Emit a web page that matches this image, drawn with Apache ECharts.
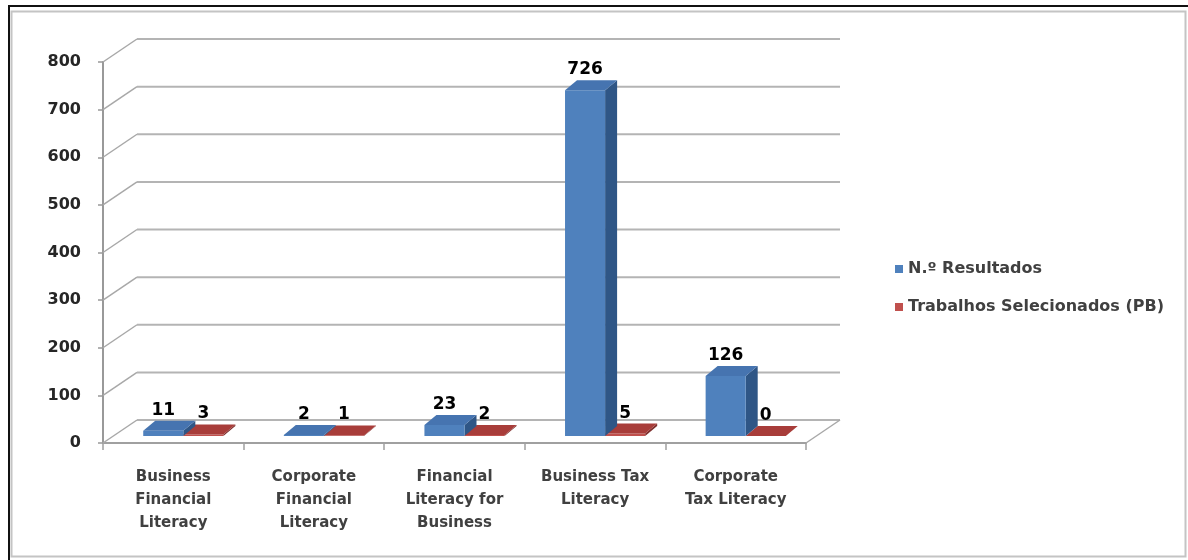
<!DOCTYPE html>
<html>
<head>
<meta charset="utf-8">
<script src="https://cdn.jsdelivr.net/npm/echarts@6/dist/echarts.min.js"></script>
<style>
  html, body { margin: 0; padding: 0; background: #ffffff; }
  #chart { width: 1188px; height: 560px; }
</style>
</head>
<body>
<div id="chart"></div>
<script>
// Search terms and counts per term
const categories = [
  'Business\nFinancial\nLiteracy',
  'Corporate\nFinancial\nLiteracy',
  'Financial\nLiteracy for\nBusiness',
  'Business Tax\nLiteracy',
  'Corporate\nTax Literacy'
];
const seriesNames = ['N.º Resultados', 'Trabalhos Selecionados (PB)'];
const resultados = [11, 2, 23, 726, 126];
const selecionados = [3, 1, 2, 5, 0];
const yTicks = [0, 100, 200, 300, 400, 500, 600, 700, 800];

// Pseudo-3D projection offsets (pixels)
const WALL = { dx: 34, dy: -23 };      // depth of floor / back wall
const BAR_FRONT = { dx: 10, dy: -7 };  // columns sit a little behind the front edge
const BAR_DEPTH = { dx: 12, dy: -10 }; // thickness of each column
const BAR_FRAC = 0.285;                // column width as a share of the category band

const FONT = '"DejaVu Sans", "Open Sans", sans-serif';

const palette = [
  { front: '#4f81bd', top: '#4674b0', side: '#2f5686' },
  { front: '#c0504d', top: '#a83d3a', side: '#7e2f2d' }
];

function columnRenderer(slot) {
  const c = palette[slot];
  return function (params, api) {
    const idx = api.value(0);
    const val = api.value(1);
    const base = api.coord([idx, 0]);
    const top = api.coord([idx, val]);
    const bw = api.size([1, 0])[0] * BAR_FRAC;
    const x0 = base[0] + (slot === 0 ? -bw : 0) + BAR_FRONT.dx;
    const x1 = x0 + bw;
    const yb = base[1] + BAR_FRONT.dy;
    const yt = top[1] + BAR_FRONT.dy;
    const dx = BAR_DEPTH.dx, dy = BAR_DEPTH.dy;
    return {
      type: 'group',
      children: [
        {
          type: 'polygon',
          shape: { points: [[x1, yb], [x1, yt], [x1 + dx, yt + dy], [x1 + dx, yb + dy]] },
          style: { fill: c.side }
        },
        {
          type: 'rect',
          shape: { x: x0, y: yt, width: bw, height: Math.max(yb - yt, 0) },
          style: { fill: c.front }
        },
        {
          type: 'polygon',
          shape: { points: [[x0, yt], [x1, yt], [x1 + dx, yt + dy], [x0 + dx, yt + dy]] },
          style: { fill: c.top }
        },
        {
          type: 'text',
          style: {
            text: String(val),
            x: (x0 + x1) / 2,
            y: yt + dy - 2,
            align: 'center',
            verticalAlign: 'bottom',
            font: 'bold 17px ' + FONT,
            fill: '#000000'
          }
        }
      ]
    };
  };
}

// Side-wall connectors, back-wall grid lines and the floor edge
function wallRenderer(params, api) {
  const t = api.value(1);
  const cs = params.coordSys;
  const y = api.coord([0, t])[1];
  const xl = cs.x, xr = cs.x + cs.width;
  const children = [
    {
      type: 'line',
      shape: { x1: xl, y1: y, x2: xl + WALL.dx, y2: y + WALL.dy },
      style: { stroke: '#a8a8a8', lineWidth: 1.5 }
    },
    {
      type: 'line',
      shape: { x1: xl + WALL.dx, y1: y + WALL.dy, x2: xr + WALL.dx, y2: y + WALL.dy },
      style: { stroke: '#b4b4b4', lineWidth: 2 }
    }
  ];
  if (t === 0) {
    children.push({
      type: 'line',
      shape: { x1: xr, y1: y, x2: xr + WALL.dx, y2: y + WALL.dy },
      style: { stroke: '#a8a8a8', lineWidth: 1.5 }
    });
  }
  return { type: 'group', children };
}

const chart = echarts.init(document.getElementById('chart'), null, { renderer: 'canvas' });

chart.setOption({
  backgroundColor: '#ffffff',
  animation: false,
  graphic: [
    { type: 'rect', shape: { x: 11.5, y: 11.5, width: 1174, height: 545 },
      style: { fill: 'none', stroke: '#c4c4c4', lineWidth: 2 }, z: 0 },
    { type: 'line', shape: { x1: 8, y1: 6, x2: 1188, y2: 6 },
      style: { stroke: '#111111', lineWidth: 2 }, z: 0 },
    { type: 'line', shape: { x1: 9, y1: 6, x2: 9, y2: 560 },
      style: { stroke: '#111111', lineWidth: 2 }, z: 0 }
  ],
  legend: {
    orient: 'vertical',
    left: 890,
    top: 256,
    itemWidth: 8,
    itemHeight: 8,
    itemGap: 22,
    icon: 'rect',
    data: seriesNames,
    textStyle: { fontFamily: FONT, fontSize: 16, fontWeight: 'bold', color: '#404040' }
  },
  grid: { left: 103, right: 382, top: 62, bottom: 117 },
  xAxis: {
    type: 'category',
    data: categories,
    axisLine: { show: true, lineStyle: { color: '#a0a0a0', width: 2 } },
    axisTick: { show: true, length: 7, lineStyle: { color: '#a0a0a0', width: 1.5 } },
    axisLabel: {
      interval: 0,
      margin: 23,
      fontFamily: FONT,
      fontSize: 15,
      fontWeight: 'bold',
      lineHeight: 23,
      color: '#404040'
    },
    splitLine: { show: false }
  },
  yAxis: {
    type: 'value',
    min: 0,
    max: 800,
    interval: 100,
    axisLine: { show: true, lineStyle: { color: '#999999', width: 2 } },
    axisTick: { show: true, length: 5, lineStyle: { color: '#999999', width: 1.5 } },
    axisLabel: {
      margin: 22,
      fontFamily: FONT,
      fontSize: 16,
      fontWeight: 'bold',
      color: '#262626'
    },
    splitLine: { show: false }
  },
  series: [
    {
      type: 'custom',
      name: 'walls',
      silent: true,
      z: 1,
      renderItem: wallRenderer,
      data: yTicks.map(function (t) { return [0, t]; }),
      encode: { x: 0, y: 1 }
    },
    {
      type: 'custom',
      name: seriesNames[1],
      z: 2,
      itemStyle: { color: palette[1].front },
      renderItem: columnRenderer(1),
      data: selecionados.map(function (v, i) { return [i, v]; }),
      encode: { x: 0, y: 1 }
    },
    {
      type: 'custom',
      name: seriesNames[0],
      z: 3,
      itemStyle: { color: palette[0].front },
      renderItem: columnRenderer(0),
      data: resultados.map(function (v, i) { return [i, v]; }),
      encode: { x: 0, y: 1 }
    }
  ]
});
</script>
</body>
</html>
